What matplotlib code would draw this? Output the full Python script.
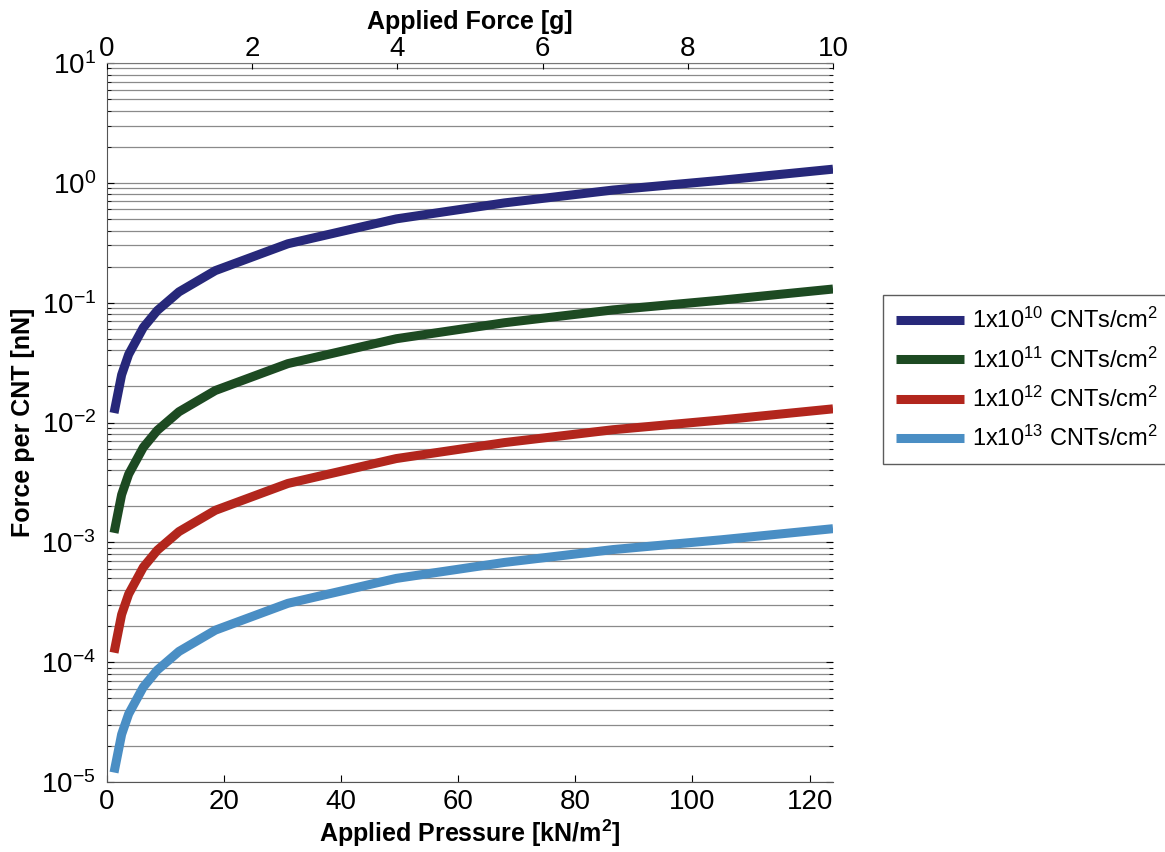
import matplotlib
matplotlib.use("Agg")
import matplotlib.pyplot as plt
from matplotlib.ticker import LogLocator, NullFormatter
import numpy as np

font = "Liberation Sans"
plt.rcParams['font.family'] = [font, 'DejaVu Sans']
plt.rcParams['mathtext.fontset'] = 'custom'
plt.rcParams['mathtext.rm'] = font
plt.rcParams['mathtext.it'] = font
plt.rcParams['mathtext.bf'] = font + ':bold'

# Data
pressure = [1.2, 2.5, 3.7, 6.2, 8.6, 12.3, 18.5, 30.9, 49.4, 67.9, 86.4, 104.9, 124.0]
f_1e10 = [0.012, 0.025, 0.037, 0.062, 0.086, 0.123, 0.185, 0.31, 0.50, 0.68, 0.87, 1.05, 1.3]
f_1e11 = [0.0012, 0.0025, 0.0037, 0.0062, 0.0086, 0.0123, 0.0185, 0.031, 0.050, 0.068, 0.087, 0.105, 0.13]
f_1e12 = [1.2e-4, 2.5e-4, 3.7e-4, 6.2e-4, 8.6e-4, 1.23e-3, 1.85e-3, 3.1e-3, 5.0e-3, 6.8e-3, 8.7e-3, 1.05e-2, 1.3e-2]
f_1e13 = [1.2e-5, 2.5e-5, 3.7e-5, 6.2e-5, 8.6e-5, 1.23e-4, 1.85e-4, 3.1e-4, 5.0e-4, 6.8e-4, 8.7e-4, 1.05e-3, 1.3e-3]
labels = [r'1x10$^{10}$ CNTs/cm$^{2}$', r'1x10$^{11}$ CNTs/cm$^{2}$',
          r'1x10$^{12}$ CNTs/cm$^{2}$', r'1x10$^{13}$ CNTs/cm$^{2}$']
colors = ['#27287a', '#1d4a22', '#b2261d', '#4a8ec4']
x_ticks = [0, 20, 40, 60, 80, 100, 120]
top_ticks = [0, 2, 4, 6, 8, 10]

fig = plt.figure(figsize=(11.65, 8.52), dpi=100)
ax = fig.add_axes([107/1165, 1-782/852, (833-107)/1165, (782-63)/852])

for ys, c, lab in zip([f_1e10, f_1e11, f_1e12, f_1e13], colors, labels):
    ax.plot(pressure, ys, color=c, lw=6.5, label=lab, solid_capstyle='butt')

ax.set_yscale('log')
ax.set_ylim(1e-5, 1e1)
ax.set_xlim(0, 124)
ax.yaxis.set_major_locator(LogLocator(base=10, numticks=20))
ax.yaxis.set_minor_locator(LogLocator(base=10, subs=np.arange(2, 10), numticks=20))
ax.yaxis.set_minor_formatter(NullFormatter())
ax.set_xticks(x_ticks)
ax.grid(True, which='both', axis='y', color='#8a8a8a', lw=0.9)
ax.tick_params(axis='both', which='both', direction='in', labelsize=20, right=True)
ax.tick_params(axis='y', which='major', length=5, pad=8)
ax.tick_params(axis='y', which='minor', length=3)
ax.tick_params(axis='x', length=5, pad=5)
for s in ['top', 'right']:
    ax.spines[s].set_visible(False)
for s in ['left', 'bottom']:
    ax.spines[s].set_color('#555555')

ax.set_xlabel(r'Applied Pressure [kN/m$^{\mathbf{2}}$]', fontsize=18, fontweight='bold', labelpad=2)
ax.set_ylabel('Force per CNT [nN]', fontsize=18, fontweight='bold', labelpad=4)

ax2 = ax.twiny()
ax2.set_xlim(0, 10)
ax2.set_xticks(top_ticks)
ax2.tick_params(axis='x', direction='in', labelsize=20, length=4, pad=1)
for s in ['left', 'right', 'bottom']:
    ax2.spines[s].set_visible(False)
ax2.spines['top'].set_color('#777777')
ax2.set_xlabel('Applied Force [g]', fontsize=18, fontweight='bold', labelpad=5)

leg = fig.legend(loc='upper left', bbox_to_anchor=(883/1165, 1-295/852), fontsize=17,
                 frameon=True, fancybox=False, handlelength=2.9, handletextpad=0.3,
                 borderpad=0.55, labelspacing=0.6, borderaxespad=0)
leg.get_frame().set_edgecolor('#333333')
leg.get_frame().set_linewidth(1.0)

fig.savefig('out.png', dpi=100)
